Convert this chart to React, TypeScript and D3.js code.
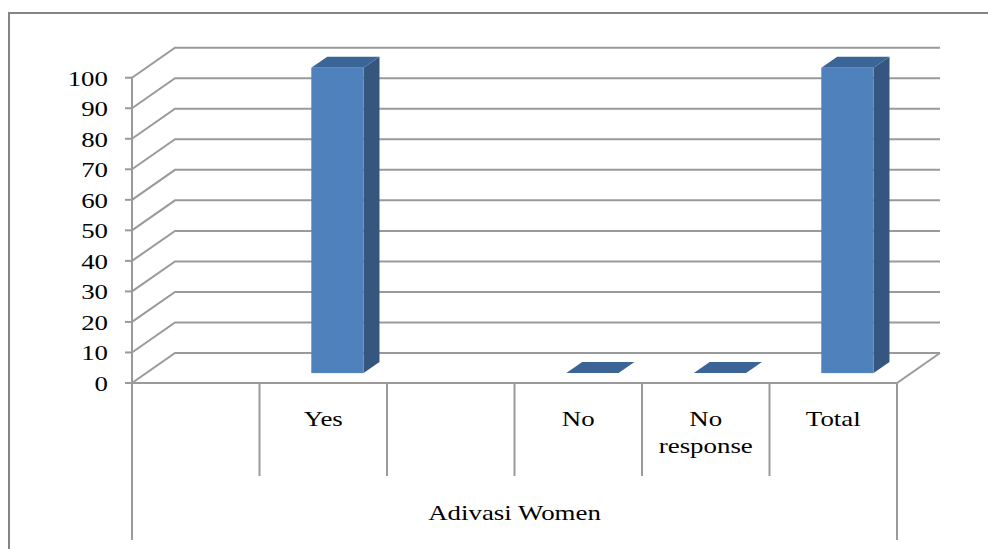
import React from "react";
import * as d3 from "d3";

// Category slots along the floor (blank slots keep their space)
const categoryIds = ["c0", "c1", "c2", "c3", "c4", "c5"];
const categoryLabels: string[][] = [[], ["Yes"], [], ["No"], ["No", "response"], ["Total"]];
const values: (number | null)[] = [null, 100, null, 0, 0, 100];
const groupLabel = "Adivasi Women";
const yTicks = [0, 10, 20, 30, 40, 50, 60, 70, 80, 90, 100];

const W = 988;
const H = 549;

// 3-D projection of the depth axis
const DX = 43;
const DY = -30;
const BAR_Z0 = 0.33;
const BAR_Z1 = 0.7;

const FRONT = "#4F81BD";
const SIDE = "#34567F";
const TOP = "#3C6597";
const GRID = "#9A9A9A";
const FONT = "Liberation Serif";
const SX = 1.28;

export default function App() {
  const x = d3
    .scaleBand<string>()
    .domain(categoryIds)
    .range([132, 897])
    .paddingInner(0.59)
    .paddingOuter(0.295);
  const y = d3.scaleLinear().domain([0, 100]).range([383, 77.7]);
  const step = x.step();
  const x0 = 132;
  const x1 = 897;
  const y0 = y(0);

  const stretched = (tx: number, ty: number, key: string, text: string, anchor: string) => (
    <text
      key={key}
      transform={`translate(${tx},${ty}) scale(${SX},1)`}
      textAnchor={anchor}
      style={{ fontFamily: FONT, fontSize: "21px" }}
      fill="#000"
    >
      {text}
    </text>
  );

  return (
    <svg
      width={W}
      height={H}
      style={{ position: "absolute", left: 0, top: 0, background: "#fff" }}
    >
      {/* outer frame */}
      <rect x={9} y={13} width={1100} height={700} fill="none" stroke="#858585" strokeWidth={2} />

      {/* gridlines: left wall diagonal + back wall horizontal */}
      {yTicks.map((t) => {
        const yf = y(t);
        return (
          <polyline
            key={"g" + t}
            points={`${x0},${yf} ${x0 + DX},${yf + DY} ${x1 + DX},${yf + DY}`}
            fill="none"
            stroke={GRID}
            strokeWidth={2}
          />
        );
      })}

      {/* floor front and right edges */}
      <polyline
        points={`${x0},${y0} ${x1},${y0} ${x1 + DX},${y0 + DY}`}
        fill="none"
        stroke={GRID}
        strokeWidth={2}
      />

      {/* value axis */}
      <line x1={x0} x2={x0} y1={y(100)} y2={540} stroke={GRID} strokeWidth={2} />
      {yTicks.map((t) => (
        <line key={"t" + t} x1={x0 - 7} x2={x0} y1={y(t)} y2={y(t)} stroke={GRID} strokeWidth={2} />
      ))}
      {yTicks.map((t) => stretched(108, y(t) + 8, "l" + t, String(t), "end"))}

      {/* category dividers */}
      {d3.range(1, categoryIds.length).map((i) => (
        <line
          key={"d" + i}
          x1={x0 + i * step}
          x2={x0 + i * step}
          y1={y0}
          y2={476}
          stroke={GRID}
          strokeWidth={2}
        />
      ))}
      <line x1={x1} x2={x1} y1={y0} y2={540} stroke={GRID} strokeWidth={2} />

      {/* bars */}
      {categoryIds.map((id, i) => {
        const v = values[i];
        if (v === null) return null;
        const bx = (x(id) as number) + BAR_Z0 * DX;
        const bw = x.bandwidth();
        const yb = y0 + BAR_Z0 * DY;
        const yt = y(v) + BAR_Z0 * DY;
        const ddx = (BAR_Z1 - BAR_Z0) * DX;
        const ddy = (BAR_Z1 - BAR_Z0) * DY;
        return (
          <g key={"b" + id}>
            {v > 0 && (
              <polygon
                points={`${bx + bw},${yb} ${bx + bw + ddx},${yb + ddy} ${bx + bw + ddx},${yt + ddy} ${bx + bw},${yt}`}
                fill={SIDE}
              />
            )}
            <polygon
              points={`${bx},${yt} ${bx + bw},${yt} ${bx + bw + ddx},${yt + ddy} ${bx + ddx},${yt + ddy}`}
              fill={TOP}
            />
            {v > 0 && <rect x={bx} y={yt} width={bw} height={yb - yt} fill={FRONT} />}
          </g>
        );
      })}

      {/* category labels */}
      {categoryIds.map((id, i) => {
        const cx = (x(id) as number) + x.bandwidth() / 2;
        return categoryLabels[i].map((line, j) =>
          stretched(cx, 426 + j * 27, `c${i}-${j}`, line, "middle")
        );
      })}

      {/* group label */}
      {stretched((x0 + x1) / 2, 520, "grp", groupLabel, "middle")}
    </svg>
  );
}
